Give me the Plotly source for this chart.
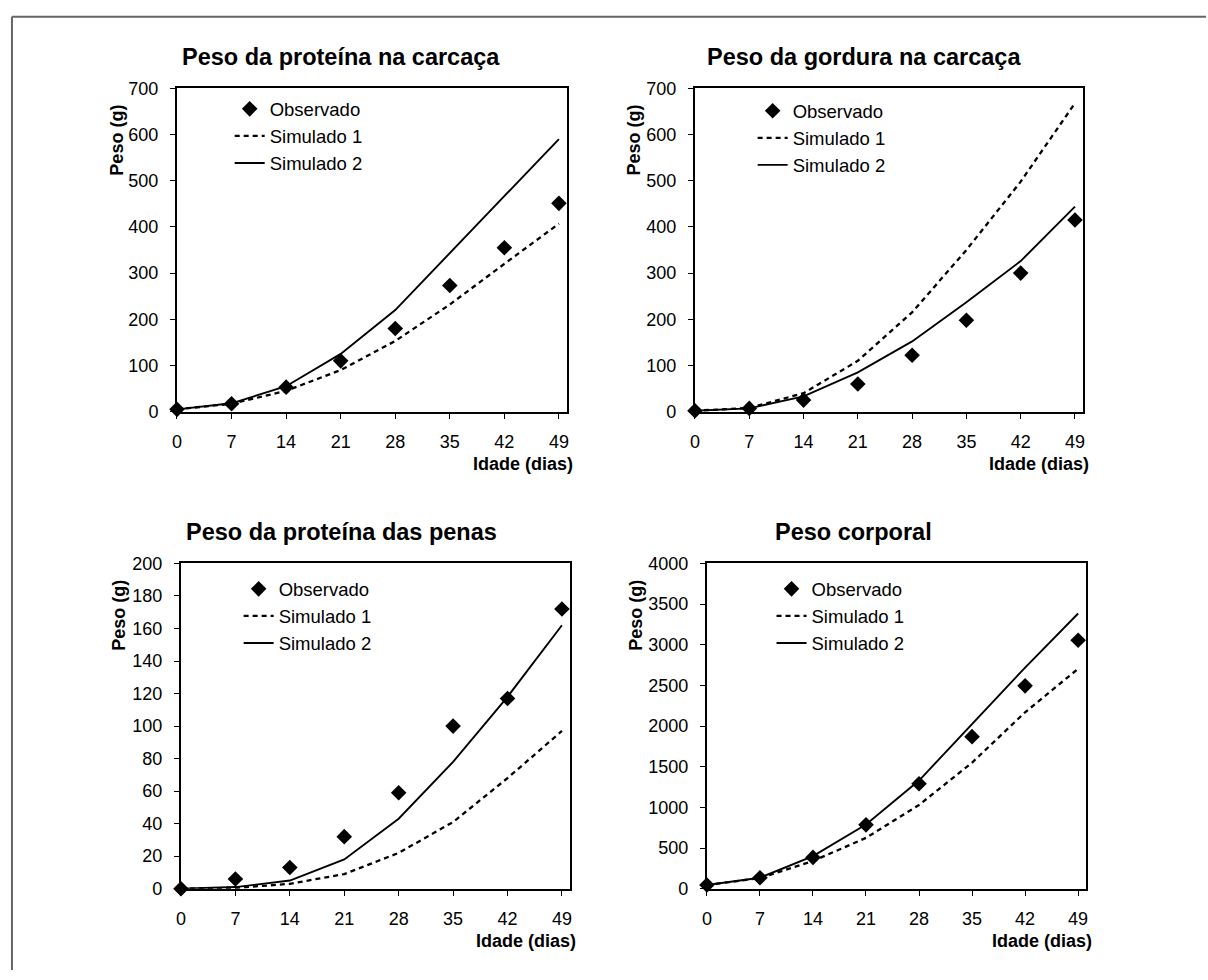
import plotly.graph_objects as go

W, H = 1208, 980

# ---------------- data ----------------
days = [0, 7, 14, 21, 28, 35, 42, 49]
x_ticks = [0, 7, 14, 21, 28, 35, 42, 49]
series_names = ["Observado", "Simulado 1", "Simulado 2"]
titles = ["Peso da proteína na carcaça", "Peso da gordura na carcaça",
          "Peso da proteína das penas", "Peso corporal"]
y_title = "Peso (g)"
x_title = "Idade (dias)"

prot_carc_obs = [5, 17, 53, 110, 180, 273, 355, 451]
prot_carc_sim1 = [5, 17, 45, 90, 153, 232, 320, 407]
prot_carc_sim2 = [5, 18, 55, 125, 220, 343, 468, 590]

gord_carc_obs = [2, 7, 25, 60, 122, 198, 300, 415]
gord_carc_sim1 = [2, 8, 40, 110, 215, 350, 498, 668]
gord_carc_sim2 = [2, 7, 33, 85, 152, 237, 326, 444]

prot_penas_obs = [0, 6, 13, 32, 59, 100, 117, 172]
prot_penas_sim1 = [0, 0.5, 3, 9, 22, 41, 68, 97]
prot_penas_sim2 = [0, 1, 5, 18, 43, 78, 118, 162]

peso_corp_obs = [45, 135, 385, 785, 1290, 1870, 2495, 3055]
peso_corp_sim1 = [45, 130, 340, 625, 1030, 1550, 2170, 2705]
peso_corp_sim2 = [45, 135, 400, 790, 1330, 2030, 2720, 3385]

y_max = [700, 700, 200, 4000]
y_dtick = [100, 100, 20, 500]

obs = [prot_carc_obs, gord_carc_obs, prot_penas_obs, peso_corp_obs]
sim1 = [prot_carc_sim1, gord_carc_sim1, prot_penas_sim1, peso_corp_sim1]
sim2 = [prot_carc_sim2, gord_carc_sim2, prot_penas_sim2, peso_corp_sim2]

# ---------------- layout (pixel geometry) ----------------
# plot areas: (left, right, top, bottom) in page pixels
areas = [(173, 565, 80, 410), (694, 1084, 80, 410),
         (177, 568, 565, 897), (706, 1087, 565, 897)]
title_pos = [(338, 48), (864, 48), (338, 533), (853, 533)]
ytitle_pos = [(113, 133), (633, 133), (115, 618), (635, 618)]
legend_pos = [(226, 82), (752, 84), (235, 572), (771, 572)]

FONT = "Liberation Sans, Arial, Helvetica, sans-serif"


def px(x):
    return x / W


def py(y):
    return 1 - y / H


fig = go.Figure()
layout = dict(
    width=W, height=H,
    margin=dict(l=0, r=0, t=0, b=0),
    paper_bgcolor="white", plot_bgcolor="white",
    font=dict(family=FONT, size=18, color="black"),
    showlegend=True,
    annotations=[], shapes=[],
)

for i in range(4):
    n = "" if i == 0 else str(i + 1)
    xa, ya = "x" + n, "y" + n
    lg = "legend" + n
    grp = "p%d" % i
    fig.add_trace(go.Scatter(
        x=days, y=sim1[i], mode="lines", name=series_names[1],
        line=dict(color="black", width=2.3, dash="5px,4px"),
        xaxis=xa, yaxis=ya, legend=lg, legendrank=2,
        legendgroup=grp + "b", cliponaxis=False, hoverinfo="x+y"))
    fig.add_trace(go.Scatter(
        x=days, y=sim2[i], mode="lines", name=series_names[2],
        line=dict(color="black", width=1.9),
        xaxis=xa, yaxis=ya, legend=lg, legendrank=3,
        legendgroup=grp + "c", cliponaxis=False, hoverinfo="x+y"))
    fig.add_trace(go.Scatter(
        x=days, y=obs[i], mode="markers", name=series_names[0],
        marker=dict(symbol="diamond", size=12, color="black"),
        xaxis=xa, yaxis=ya, legend=lg, legendrank=1,
        legendgroup=grp + "a", cliponaxis=False, hoverinfo="x+y"))

    l, r, t, b = areas[i]
    axis_common = dict(showline=True, linecolor="black", linewidth=2,
                       mirror=True, showgrid=False, zeroline=False,
                       ticks="outside", ticklen=5, tickwidth=1,
                       tickcolor="black",
                       tickfont=dict(family=FONT, size=18, color="black"))
    layout["xaxis" + n] = dict(
        domain=[px(l), px(r)], range=[0, 50], anchor=ya,
        tickmode="array", tickvals=x_ticks,
        ticklabelstandoff=8, **axis_common)
    layout["yaxis" + n] = dict(
        domain=[py(b), py(t)], range=[0, y_max[i]], anchor=xa,
        dtick=y_dtick[i], tick0=0, ticklabelstandoff=8, **axis_common)

    lx, ly = legend_pos[i]
    layout[lg] = dict(
        x=px(lx), y=py(ly), xanchor="left", yanchor="top",
        bgcolor="rgba(0,0,0,0)", borderwidth=0,
        font=dict(family=FONT, size=18.5, color="black"),
        traceorder="normal", tracegroupgap=2, itemwidth=30)

    tx, ty = title_pos[i]
    layout["annotations"].append(dict(
        x=px(tx), y=py(ty), xref="paper", yref="paper",
        text="<b>%s</b>" % titles[i], showarrow=False,
        xanchor="center", yanchor="middle",
        font=dict(family=FONT, size=23.5, color="black")))
    yx, yy = ytitle_pos[i]
    layout["annotations"].append(dict(
        x=px(yx), y=py(yy), xref="paper", yref="paper",
        text="<b>%s</b>" % y_title, showarrow=False, textangle=-90,
        xanchor="center", yanchor="middle",
        font=dict(family=FONT, size=18, color="black")))
    layout["annotations"].append(dict(
        x=px(r + 8), y=py(b + 53), xref="paper", yref="paper",
        text="<b>%s</b>" % x_title, showarrow=False,
        xanchor="right", yanchor="middle",
        font=dict(family=FONT, size=18, color="black")))

# outer frame (top and left edges, as in the scanned figure)
layout["shapes"].append(dict(type="line", xref="paper", yref="paper",
                             x0=px(7), x1=1, y0=py(7), y1=py(7),
                             line=dict(color="#666666", width=2)))
layout["shapes"].append(dict(type="line", xref="paper", yref="paper",
                             x0=px(7), x1=px(7), y0=py(7), y1=0,
                             line=dict(color="#666666", width=2)))

fig.update_layout(**layout)
fig.write_html(
    "out.html",
    config={"displayModeBar": False},
    post_script="document.body.style.margin='0';"
                "document.documentElement.style.overflow='hidden';"
                "document.body.style.overflow='hidden';")
